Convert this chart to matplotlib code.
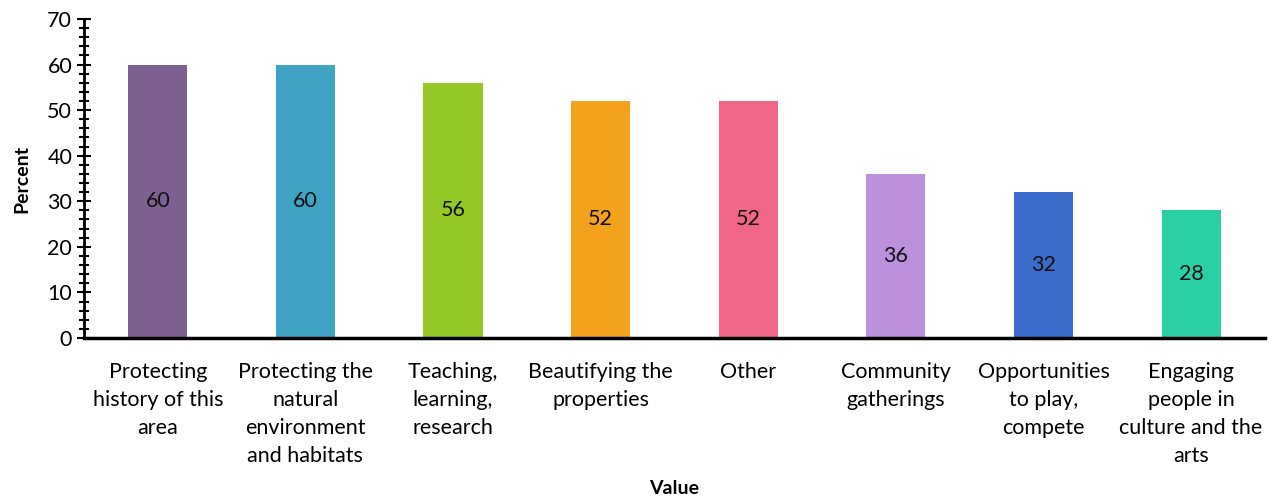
import matplotlib.pyplot as plt
from matplotlib.ticker import MultipleLocator

categories = [
    'Protecting\nhistory of this\narea',
    'Protecting the\nnatural\nenvironment\nand habitats',
    'Teaching,\nlearning,\nresearch',
    'Beautifying the\nproperties',
    'Other',
    'Community\ngatherings',
    'Opportunities\nto play,\ncompete',
    'Engaging\npeople in\nculture and the\narts',
]
percent = [60, 60, 56, 52, 52, 36, 32, 28]
colors = ['#7E6191', '#40A3C3', '#95C826', '#F4A21C',
          '#F06687', '#BD90DC', '#3C6CCB', '#2ACFA4']

plt.rcParams['font.family'] = ['Lato', 'DejaVu Sans']

fig = plt.figure(figsize=(12.7, 4.97), dpi=100)
ax = fig.add_axes([0.0661, 0.32, 0.9299, 0.6418])

x = range(len(categories))
bars = ax.bar(x, percent, width=0.4, color=colors)

# value labels in the middle of each bar
for b, v in zip(bars, percent):
    ax.text(b.get_x() + b.get_width() / 2, v / 2, str(v),
            ha='center', va='center', fontsize=15.5, color='#111111')

ax.set_xlim(-0.5, len(categories) - 0.5)
ax.set_ylim(0, 70)
ax.set_xticks(list(x))
ax.set_xticklabels(categories, fontsize=15.5, linespacing=1.5, va='top')
ax.yaxis.set_major_locator(MultipleLocator(10))
ax.yaxis.set_minor_locator(MultipleLocator(2))
ax.tick_params(axis='y', which='major', direction='inout', length=10, width=1.5, labelsize=15.5)
ax.tick_params(axis='y', which='minor', direction='inout', length=7, width=1.5)
ax.tick_params(axis='x', length=0, pad=17)

for s in ['top', 'right']:
    ax.spines[s].set_visible(False)
ax.spines['left'].set_linewidth(2)
ax.spines['bottom'].set_linewidth(2.5)

ax.set_ylabel('Percent', fontsize=14, fontweight='bold', labelpad=12)
ax.set_xlabel('Value', fontsize=14, fontweight='bold')
ax.xaxis.set_label_coords(0.5, -0.445)

fig.savefig('out.png', dpi=100)
